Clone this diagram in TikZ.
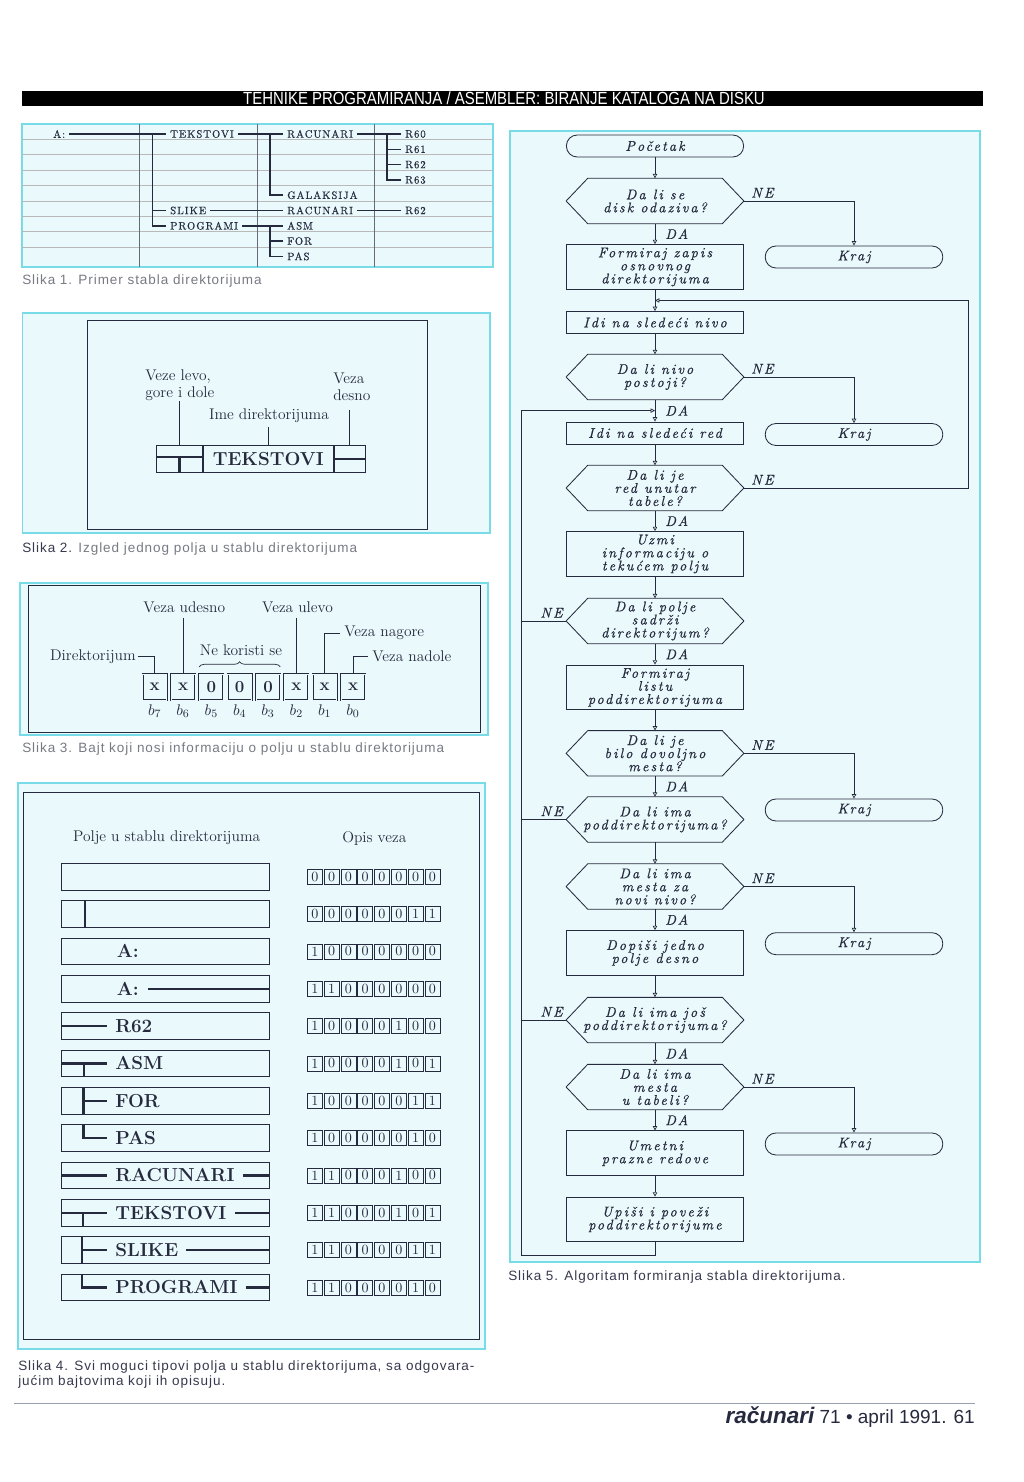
\documentclass[tikz,border=0pt]{standalone}
\usepackage{fontspec}
\usepackage{tikz}
\usetikzlibrary{arrows.meta,positioning,calc,decorations.pathreplacing}
\newfontfamily\sansf{Liberation Sans}
\newfontfamily\capf{Liberation Sans}[LetterSpace=7]
\newfontfamily\headf{Liberation Sans}[FakeStretch=0.85]
\newfontfamily\flowf{lmroman10-italic.otf}[LetterSpace=15,FakeBold=0.5]
\newfontfamily\treef{lmroman10-regular.otf}[LetterSpace=9,FakeBold=0.4]
\definecolor{CyanLine}{RGB}{120,220,232}
\definecolor{CyanFill}{RGB}{234,249,251}
\definecolor{Ink}     {RGB}{38, 42, 62}
\definecolor{CapGray} {RGB}{120,122,132}
\definecolor{CapDark} {RGB}{55, 58, 78}
\definecolor{RuleGray}{RGB}{150,160,175}

% hexagon frame drawn round a decision node
\newcommand\hexframe[1]{%
  \draw[Ink,line width=0.6pt] (#1.west) -- ([xshift=5.4mm]#1.north west) -- ([xshift=-5.4mm]#1.north east)
    -- (#1.east) -- ([xshift=-5.4mm]#1.south east) -- ([xshift=5.4mm]#1.south west) -- cycle;}
% one row of eight bits in Slika 4
\newcommand\bytes[2]{%
  \foreach \bv [count=\jj from 0] in {#2}
    {\node[bytebox] (by#1-\jj) at (314.8+16.8*\jj,876.65+37.35*#1) {\bv};}}

\tikzset{
  panel/.style={draw=CyanLine,fill=CyanFill,line width=0.8pt},
  inkframe/.style={draw=Ink,line width=0.6pt},
  tr/.style={anchor=west,inner xsep=2.8pt,inner ysep=0pt,text=Ink,font=\treef\fontsize{7.6}{9}\selectfont},
  tl/.style={Ink,line width=1.1pt},
  lab/.style={inner sep=0pt,text=Ink,font=\fontsize{11}{12}\selectfont},
  cell/.style={draw=Ink,line width=0.6pt,minimum height=6.83mm,inner sep=0pt},
  thk/.style={Ink,line width=1.6pt},
  bit/.style={draw=Ink,double=CyanFill,double distance=0.5pt,minimum width=6mm,minimum height=6.5mm,
    inner sep=0pt,text=Ink,font=\bfseries\fontsize{12}{12}\selectfont},
  fld/.style={anchor=west,inner sep=0pt,text=Ink,font=\bfseries\fontsize{13.4}{13}\selectfont},
  bytebox/.style={draw=Ink,line width=0.5pt,minimum size=3.75mm,inner sep=0pt,text=Ink,font=\fontsize{10}{10}\selectfont},
  captxt/.style={anchor=west,inner sep=0pt,font=\capf\fontsize{9.6}{11}\selectfont},
  fnt/.style={font=\flowf\fontsize{10}{9.3}\selectfont,text=Ink,align=center,inner ysep=0.3pt},
  term/.style={fnt,draw=Ink,line width=0.6pt,rounded corners=2.7mm,minimum width=44.3mm,minimum height=5.5mm},
  proc/.style={fnt,draw=Ink,line width=0.6pt,minimum width=44.3mm,minimum height=5.5mm},
  dec/.style={fnt,minimum width=44.3mm,minimum height=11.2mm},
  arr/.style={Ink,line width=0.5pt,-{Triangle[open,length=1.1mm,width=1.1mm]}},
  ln/.style={Ink,line width=0.5pt},
  yn/.style={fnt,inner sep=0pt},
}

\begin{document}
\begin{tikzpicture}[x=0.25mm,y=-0.25mm]
  \useasboundingbox (0,0) rectangle (1024,1482);
  \fill[white] (0,0) rectangle (1024,1482);

  % page head
  \fill[black] (22,91) rectangle (983,106);
  \node[text=white,font=\headf\fontsize{12.5}{12}\selectfont] (head) at (504,98.5)
    {TEHNIKE PROGRAMIRANJA / ASEMBLER: BIRANJE KATALOGA NA DISKU};

  % Slika 1
  \draw[panel] (22,124) rectangle (493,267);
  \foreach \yy in {139.3,154.7,170.1,185.5,200.9,216.3,231.7,247.1}
    \draw[gray!55,line width=0.4pt] (22,\yy) -- (493,\yy);
  \foreach \xx in {139,257,374}
    \draw[Ink!70,line width=0.4pt] (\xx,124) -- (\xx,267);
  \node[tr] (tA)    at (49,134)    {A:};
  \node[tr] (tTek)  at (166,134)   {TEKSTOVI};
  \node[tr] (tRac)  at (283,134)   {RACUNARI};
  \node[tr] (tR0)   at (401,134)   {R60};
  \node[tr] (tR1)   at (401,149.3) {R61};
  \node[tr] (tR2)   at (401,164.6) {R62};
  \node[tr] (tR3)   at (401,179.9) {R63};
  \node[tr] (tGal)  at (283,195.2) {GALAKSIJA};
  \node[tr] (tSli)  at (166,210.5) {SLIKE};
  \node[tr] (tRac2) at (283,210.5) {RACUNARI};
  \node[tr] (tR62)  at (401,210.5) {R62};
  \node[tr] (tPro)  at (166,225.8) {PROGRAMI};
  \node[tr] (tAsm)  at (283,225.8) {ASM};
  \node[tr] (tFor)  at (283,241.1) {FOR};
  \node[tr] (tPas)  at (283,256.4) {PAS};
  \coordinate (vA) at (152.7,134);
  \coordinate (vT) at (270,134);
  \coordinate (vR) at (387,134);
  \coordinate (vP) at (270,225.8);
  \draw[tl] (tA.east) -- (tTek.west);
  \draw[tl] (tTek.east) -- (tRac.west);
  \draw[tl] (tRac.east) -- (tR0.west);
  \draw[tl] (vR) |- (tR3.west);
  \draw[tl] (vR |- tR1.west) -- (tR1.west);
  \draw[tl] (vR |- tR2.west) -- (tR2.west);
  \draw[tl] (vT) |- (tGal.west);
  \draw[tl] (vA) |- (tPro.west);
  \draw[tl] (vA |- tSli.west) -- (tSli.west);
  \draw[tl] (tSli.east) -- (tRac2.west);
  \draw[tl] (tRac2.east) -- (tR62.west);
  \draw[tl] (tPro.east) -- (tAsm.west);
  \draw[tl] (vP) |- (tPas.west);
  \draw[tl] (vP |- tFor.west) -- (tFor.west);
  \node[captxt,text=CapGray] (cap1) at (22,281) {Slika 1. Primer stabla direktorijuma};

  % Slika 2
  \draw[panel] (22.7,313) rectangle (490,533);
  \draw[inkframe] (87,320) rectangle (427,529);
  \node[cell,minimum width=32.5mm,font=\bfseries\fontsize{13.4}{13}\selectfont,text=Ink] (cm) at (268.3,458.7) {TEKSTOVI};
  \node[cell,minimum width=11.5mm,left=0pt of cm] (cl) {};
  \node[cell,minimum width=7.75mm,right=0pt of cm] (cr) {};
  \draw[thk] ([yshift=0.5mm]cl.west) -- ([yshift=0.5mm]cl.east);
  \draw[thk] ([yshift=0.5mm]cl.center) -- (cl.south);
  \draw[thk] (cr.west) -- (cr.east);
  \node[lab,align=left,anchor=south west] (lL) at (145,400.5) {Veze levo,\\gore i dole};
  \node[lab,align=left,anchor=south west] (lR) at (333,401) {Veza\\desno};
  \node[lab] (lM) at (269,415.7) {Ime direktorijuma};
  \draw[ln] (cl.north) -- ++(0,-43.3);
  \draw[ln] (cm.north) -- ++(0,-18);
  \draw[ln] (cr.north) -- ++(0,-35);
  \node[captxt,text=CapGray] (cap2) at (22,549) {\textcolor{CapDark}{Slika 2.} Izgled jednog polja u stablu direktorijuma};

  % Slika 3
  \draw[panel] (20,583) rectangle (488,735);
  \draw[inkframe] (28,585) rectangle (480,732);
  \foreach \vv [count=\ii from 0] in {x,x,0,0,0,x,x,x} {
    \node[bit] (b\ii) at (154.7+28.33*\ii,687) {\vv};
    \pgfmathtruncatemacro\nn{7-\ii}
    \node[lab] (bl\ii) at (154.7+28.33*\ii,711) {$b_{\nn}$};
  }
  \node[lab,anchor=east] (dir) at (136,656.7) {Direktorijum};
  \node[lab] (vu) at (184.3,607) {Veza udesno};
  \node[lab] (vl) at (297.5,607) {Veza ulevo};
  \node[lab,anchor=west] (vng) at (344,633) {Veza nagore};
  \node[lab,anchor=west] (vnd) at (372,656.7) {Veza nadole};
  \node[lab] (nk) at (241,650) {Ne koristi se};
  \draw[ln] (dir.east) ++(2,0) -| (b0.north);
  \draw[ln] (b1.north) -- (b1.north |- 0,618);
  \draw[ln] (b5.north) -- (b5.north |- 0,618);
  \draw[ln] (b6.north) |- ([xshift=-1mm]vng.west);
  \draw[ln] (b7.north) |- ([xshift=-1mm]vnd.west);
  \draw[ln,decorate,decoration={brace,amplitude=1.3mm}]
    ([yshift=1.7mm]b2.north west) -- ([yshift=1.7mm]b4.north east);
  \node[captxt,text=CapGray] (cap3) at (22,749) {Slika 3. Bajt koji nosi informaciju o polju u stablu direktorijuma};

  % Slika 4
  \draw[panel] (18,783) rectangle (485,1349);
  \draw[inkframe] (23,792) rectangle (479,1339);
  \node[lab] (h1) at (166.7,837.3) {Polje u stablu direktorijuma};
  \node[lab] (h2) at (374.3,839) {Opis veza};
  \foreach \k in {0,...,11}
    \draw[inkframe] (61.5,863.3+37.35*\k) rectangle (269,890+37.35*\k);
  \coordinate (fr) at (269,0);
  \draw[thk] (85,900.65) -- (85,927.35);
  \node[fld] (f2) at (116.7,951.35) {A:};
  \node[fld] (f3) at (116.7,988.7) {A:};
  \draw[thk] ([xshift=2.2mm]f3.east) -- (f3.east -| fr);
  \draw[thk] (61.5,1026.05) -- (106.7,1026.05);
  \node[fld] (f4) at (115,1026.05) {R62};
  \draw[thk] (61.5,1063.4) -- (106.7,1063.4);
  \draw[thk] (84,1063.4) -- (84,1076.75);
  \node[fld] (f5) at (115,1063.4) {ASM};
  \draw[thk] (83.5,1087.4) -- (83.5,1114.1);
  \draw[thk] (83.5,1100.75) -- (106.7,1100.75);
  \node[fld] (f6) at (115,1100.75) {FOR};
  \draw[thk] (83.5,1124.75) |- (106.7,1138.1);
  \node[fld] (f7) at (115,1138.1) {PAS};
  \draw[thk] (61.5,1175.45) -- (106.7,1175.45);
  \node[fld] (f8) at (115,1175.45) {RACUNARI};
  \draw[thk] ([xshift=2mm]f8.east) -- (f8.east -| fr);
  \draw[thk] (61.5,1212.8) -- (106.7,1212.8);
  \draw[thk] (83,1212.8) -- (83,1226.15);
  \node[fld] (f9) at (115,1212.8) {TEKSTOVI};
  \draw[thk] ([xshift=2mm]f9.east) -- (f9.east -| fr);
  \draw[thk] (82,1236.8) -- (82,1263.5);
  \draw[thk] (82,1250.15) -- (106.7,1250.15);
  \node[fld] (f10) at (115,1250.15) {SLIKE};
  \draw[thk] ([xshift=2mm]f10.east) -- (f10.east -| fr);
  \draw[thk] (82,1274.15) |- (106.7,1287.5);
  \node[fld] (f11) at (115,1287.5) {PROGRAMI};
  \draw[thk] ([xshift=2mm]f11.east) -- (f11.east -| fr);
  \bytes{0}{0,0,0,0,0,0,0,0}
  \bytes{1}{0,0,0,0,0,0,1,1}
  \bytes{2}{1,0,0,0,0,0,0,0}
  \bytes{3}{1,1,0,0,0,0,0,0}
  \bytes{4}{1,0,0,0,0,1,0,0}
  \bytes{5}{1,0,0,0,0,1,0,1}
  \bytes{6}{1,0,0,0,0,0,1,1}
  \bytes{7}{1,0,0,0,0,0,1,0}
  \bytes{8}{1,1,0,0,0,1,0,0}
  \bytes{9}{1,1,0,0,0,1,0,1}
  \bytes{10}{1,1,0,0,0,0,1,1}
  \bytes{11}{1,1,0,0,0,0,1,0}
  \node[captxt,text=CapDark] (cap4a) at (18,1367) {Slika 4. Svi moguci tipovi polja u stablu direktorijuma, sa odgovara-};
  \node[captxt,text=CapDark] (cap4b) at (18,1381.7) {jućim bajtovima koji ih opisuju.};

  % Slika 5
  \draw[panel] (510,131) rectangle (980,1262);
  \node[term] (st) at (655,146) {Početak};
  \node[dec]  (d1) at (655,201) {Da li se\\disk odaziva?};
  \node[proc,minimum height=11.2mm] (p1) at (655,267) {Formiraj zapis\\osnovnog\\direktorijuma};
  \node[term,minimum width=44.4mm] (k1) at (854,257) {Kraj};
  \node[proc] (p2) at (655,322.5) {Idi na sledeći nivo};
  \node[dec]  (d2) at (655,377) {Da li nivo\\postoji?};
  \node[term,minimum width=44.4mm] (k2) at (854,434.5) {Kraj};
  \node[proc] (p3) at (655,433) {Idi na sledeći red};
  \node[dec]  (d3) at (655,488) {Da li je\\red unutar\\tabele?};
  \node[proc,minimum height=11.2mm] (p4) at (655,554) {Uzmi\\informaciju o\\tekućem polju};
  \node[dec]  (d4) at (655,621) {Da li polje\\sadrži\\direktorijum?};
  \node[proc,minimum height=11.2mm] (p5) at (655,687.5) {Formiraj\\listu\\poddirektorijuma};
  \node[dec]  (d5) at (655,753.3) {Da li je\\bilo dovoljno\\mesta?};
  \node[term,minimum width=44.4mm] (k3) at (854,810) {Kraj};
  \node[dec]  (d6) at (655,819.5) {Da li ima\\poddirektorijuma?};
  \node[dec]  (d7) at (655,886.5) {Da li ima\\mesta za\\novi nivo?};
  \node[proc,minimum height=11.2mm] (p6) at (655,953) {Dopiši jedno\\polje desno};
  \node[term,minimum width=44.4mm] (k4) at (854,943.7) {Kraj};
  \node[dec]  (d8) at (655,1020) {Da li ima još\\poddirektorijuma?};
  \node[dec]  (d9) at (655,1087) {Da li ima\\mesta\\u tabeli?};
  \node[proc,minimum height=11.2mm] (p7) at (655,1153.3) {Umetni\\prazne redove};
  \node[term,minimum width=44.4mm] (k5) at (854,1144) {Kraj};
  \node[proc,minimum height=11.2mm] (p8) at (655,1219.5) {Upiši i poveži\\poddirektorijume};
  \foreach \dd in {d1,d2,d3,d4,d5,d6,d7,d8,d9} {\hexframe{\dd}}

  \coordinate (jR) at ($(p1.south)!0.5!(p2.north)$);
  \coordinate (jL) at ($(d2.south)!0.5!(p3.north)$);
  \coordinate (rx) at (968,0);
  \coordinate (lx) at (521,0);
  \draw[arr] (st) -- (d1);
  \draw[arr] (d1) -- (p1);
  \draw[arr] (d1.east) -| (k1.north);
  \draw[arr] (p1) -- (p2);
  \draw[arr] (p2) -- (d2);
  \draw[arr] (d2.east) -| (k2.north);
  \draw[arr] (d2) -- (p3);
  \draw[arr] (p3) -- (d3);
  \draw[arr] (d3.east) -- (d3.east -| rx) -- (rx |- jR) -- (jR);
  \draw[arr] (d3) -- (p4);
  \draw[arr] (p4) -- (d4);
  \draw[arr] (d4.west) -- (d4.west -| lx) -- (lx |- jL) -- (jL);
  \draw[arr] (d4) -- (p5);
  \draw[arr] (p5) -- (d5);
  \draw[arr] (d5.east) -| (k3.north);
  \draw[arr] (d5) -- (d6);
  \draw[ln]  (d6.west) -- (d6.west -| lx);
  \draw[arr] (d6) -- (d7);
  \draw[arr] (d7.east) -| (k4.north);
  \draw[arr] (d7) -- (p6);
  \draw[arr] (p6) -- (d8);
  \draw[ln]  (d8.west) -- (d8.west -| lx);
  \draw[arr] (d8) -- (d9);
  \draw[arr] (d9.east) -| (k5.north);
  \draw[arr] (d9) -- (p7);
  \draw[arr] (p7) -- (p8);
  \draw[ln]  (p8.south) -- ++(0,13.5) -| (lx |- d4.west);

  \foreach \dd in {d1,d2,d3,d5,d7,d9}
    {\node[yn,anchor=south west] (ne-\dd) at ([xshift=1.8mm,yshift=0.8mm]\dd.east) {NE};}
  \foreach \dd in {d4,d6,d8}
    {\node[yn,anchor=south east] (ne-\dd) at ([xshift=-0.8mm,yshift=0.8mm]\dd.west) {NE};}
  \node[yn,anchor=west] (da1) at ($(d1.south)!0.5!(p1.north)+(10,0)$) {DA};
  \node[yn,anchor=west] (da2) at ($(d2.south)!0.5!(p3.north)+(10,0)$) {DA};
  \node[yn,anchor=west] (da3) at ($(d3.south)!0.5!(p4.north)+(10,0)$) {DA};
  \node[yn,anchor=west] (da4) at ($(d4.south)!0.5!(p5.north)+(10,0)$) {DA};
  \node[yn,anchor=west] (da5) at ($(d5.south)!0.5!(d6.north)+(10,0)$) {DA};
  \node[yn,anchor=west] (da7) at ($(d7.south)!0.5!(p6.north)+(10,0)$) {DA};
  \node[yn,anchor=west] (da8) at ($(d8.south)!0.5!(d9.north)+(10,0)$) {DA};
  \node[yn,anchor=west] (da9) at ($(d9.south)!0.5!(p7.north)+(10,0)$) {DA};
  \node[captxt,text=CapDark] (cap5) at (508,1277) {Slika 5. Algoritam formiranja stabla direktorijuma.};

  % page foot
  \draw[RuleGray,line width=0.6pt] (14,1403) -- (975,1403);
  \node[anchor=east,inner sep=0pt,text=Ink,font=\sansf\fontsize{13.5}{13}\selectfont] (foot) at (975,1417)
    {{\bfseries\itshape\fontsize{16}{14}\selectfont računari} 71 • april 1991. 61};
\end{tikzpicture}
\end{document}
